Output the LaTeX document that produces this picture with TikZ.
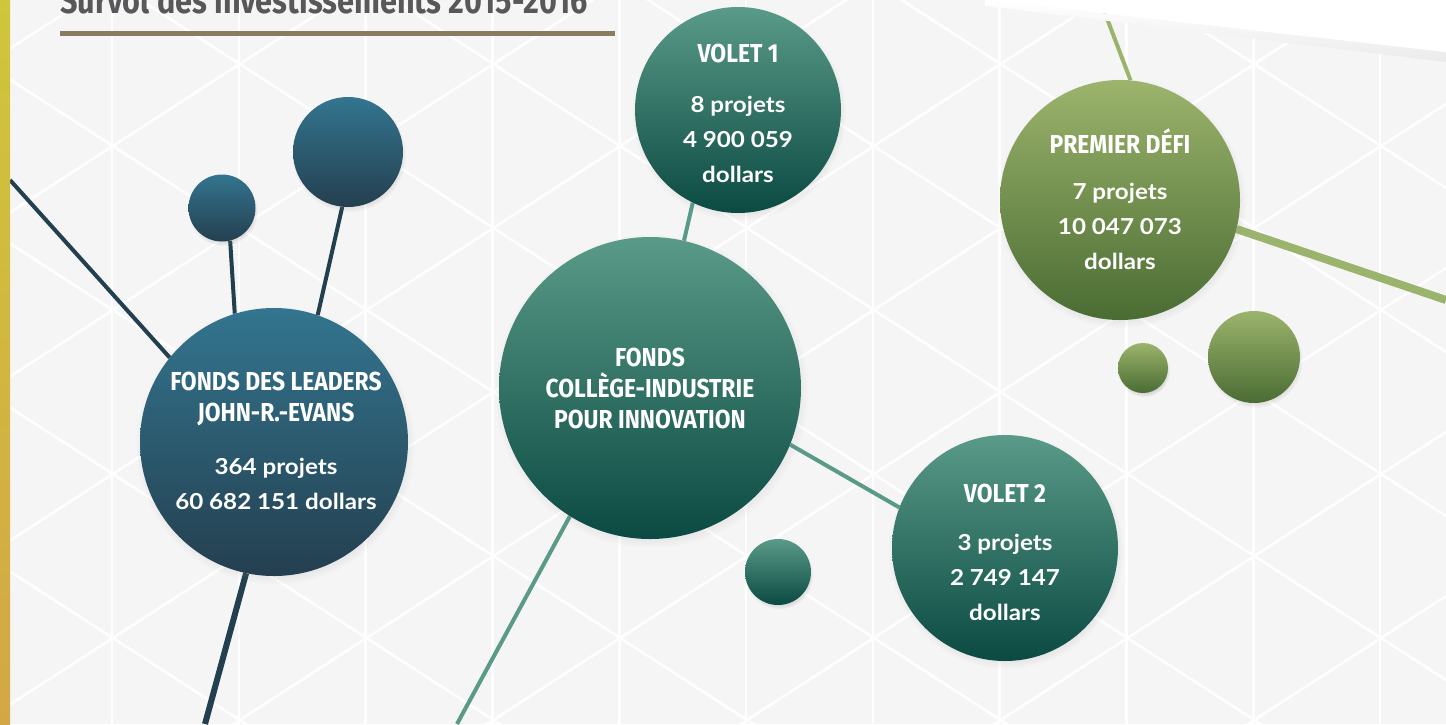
\documentclass[tikz,border=0pt]{standalone}
\usepackage{fontspec}
\setmainfont{Lato}
\newfontfamily\headfont{Fira Sans}[FakeStretch=0.88]
\newfontfamily\titlefont{Fira Sans}[FakeStretch=0.85]
\newfontfamily\infofont{Lato}[FakeStretch=1.1]
\usetikzlibrary{shadows}

\definecolor{blueTop}{HTML}{33758F}
\definecolor{blueBot}{HTML}{243F4F}
\definecolor{blueLink}{HTML}{22404F}
\definecolor{tealTop}{HTML}{5A9A88}
\definecolor{tealBot}{HTML}{0B4A42}
\definecolor{tealLink}{HTML}{5A9A88}
\definecolor{greenTop}{HTML}{9CB46C}
\definecolor{greenBot}{HTML}{4A6C33}
\definecolor{greenLink}{HTML}{9BB46D}
\definecolor{paper}{HTML}{F5F5F5}
\definecolor{titleGrey}{HTML}{58585A}
\definecolor{titleBar}{HTML}{8A7C5E}
\definecolor{stripTop}{HTML}{CFC63A}
\definecolor{stripBot}{HTML}{D3A745}

\pgfdeclarelayer{grid}
\pgfdeclarelayer{links}
\pgfsetlayers{grid,links,main}

\tikzset{
  bubble/.style={circle, inner sep=0pt, shade, shading angle=0,
    circular drop shadow={shadow xshift=1pt, shadow yshift=-3pt, shadow scale=1.04, opacity=0.25}},
  bluedot/.style={bubble, top color=blueTop, bottom color=blueBot},
  tealdot/.style={bubble, top color=tealTop, bottom color=tealBot},
  greendot/.style={bubble, top color=greenTop, bottom color=greenBot},
  head/.style={text=white, align=center, inner sep=0pt,
    font=\headfont\bfseries\fontsize{26}{31}\selectfont},
  info/.style={text=white, align=center, inner sep=0pt,
    font=\infofont\bfseries\fontsize{22}{35}\selectfont},
  gridline/.style={white, line width=2.6pt, opacity=0.9},
  link/.style={line width=4pt}
}

\begin{document}
\begin{tikzpicture}[x=1pt, y=-1pt]
\useasboundingbox (0,0) rectangle (1446,724);

% background lattice
\begin{pgfonlayer}{grid}
\begin{scope}
  \clip (0,0) rectangle (1446,724);
  \fill[paper] (0,0) rectangle (1446,724);
  \foreach \i in {0,...,10}
    \draw[gridline] ({112+126.8*\i},0) -- ++(0,724);
  \foreach \n in {-8,...,8} {
    \draw[gridline] (0,{310-565+164*\n}) -- (1446,{310+370+164*\n});
    \draw[gridline] (0,{310+565+164*\n}) -- (1446,{310-370+164*\n});
  }
\end{scope}
\end{pgfonlayer}

% left strip and title
\shade[top color=stripTop, bottom color=stripBot] (0,0) rectangle (10,724);
\node[anchor=base west, inner sep=0pt, text=titleGrey,
  font=\titlefont\bfseries\fontsize{36}{36}\selectfont] (title) at (60,13)
  {Survol des investissements 2015-2016};
\fill[titleBar] (60,31) rectangle (615,36);

% bubbles
\node[bluedot, minimum size=268pt] (leaders) at (274,442) {};
\node[bluedot, minimum size=67pt] (leadersA) at (222,208) {};
\node[bluedot, minimum size=110pt] (leadersB) at (348,152) {};

\node[tealdot, minimum size=302pt] (college) at (650,388) {};
\node[tealdot, minimum size=206pt] (volet1) at (738,110) {};
\node[tealdot, minimum size=226pt] (volet2) at (1005,548) {};
\node[tealdot, minimum size=66pt] (collegeA) at (778,572) {};

\node[greendot, minimum size=240pt] (defi) at (1120,200) {};
\node[greendot, minimum size=50pt] (defiA) at (1143,368) {};
\node[greendot, minimum size=92pt] (defiB) at (1254,357) {};

% texts
\node[head] (leadersHead) at (276,399) {FONDS DES LEADERS\\JOHN-R.-EVANS};
\node[info] (leadersInfo) at (276,484) {364 projets\\60 682 151 dollars};
\node[head] (collegeHead) at (650,388) {FONDS\\COLLÈGE-INDUSTRIE\\POUR INNOVATION};
\node[head] (volet1Head) at (738,53) {VOLET 1};
\node[info] (volet1Info) at (738,139) {8 projets\\4 900 059\\dollars};
\node[head] (volet2Head) at (1005,493) {VOLET 2};
\node[info] (volet2Info) at (1005,577) {3 projets\\2 749 147\\dollars};
\node[head] (defiHead) at (1120,141) {PREMIER DÉFI};
\node[info] (defiInfo) at (1120,226) {7 projets\\10 047 073\\dollars};

% free ends
\coordinate (edgeL) at (10,180);
\coordinate (edgeBL) at (205,724);
\coordinate (edgeBM) at (457,724);
\coordinate (edgeT) at (1100,0);
\coordinate (edgeR) at (1446,300);

% connectors
\begin{pgfonlayer}{links}
  \draw[link, blueLink] (leaders.141) -- (edgeL);
  \draw[link, blueLink, line width=6pt] (leaders.-102) -- (edgeBL);
  \draw[link, blueLink] (leadersA.-76) -- (leaders.107);
  \draw[link, blueLink] (leadersB.-96) -- (leaders.71);
  \draw[link, tealLink] (volet1.-116) -- (college.77);
  \draw[link, tealLink] (college.-22) -- (volet2.159);
  \draw[link, tealLink] (college.-122) -- (edgeBM);
  \draw[link, greenLink] (defi.85) -- (edgeT);
  \draw[link, greenLink, line width=8pt] (defi.-14) -- (edgeR);
\end{pgfonlayer}

% white corner
\shade[top color=white, bottom color=black!8] (985,0) -- (1446,52) -- (1446,62) -- (985,6) -- cycle;
\fill[white] (985,0) -- (1446,0) -- (1446,52) -- cycle;
\end{tikzpicture}
\end{document}
